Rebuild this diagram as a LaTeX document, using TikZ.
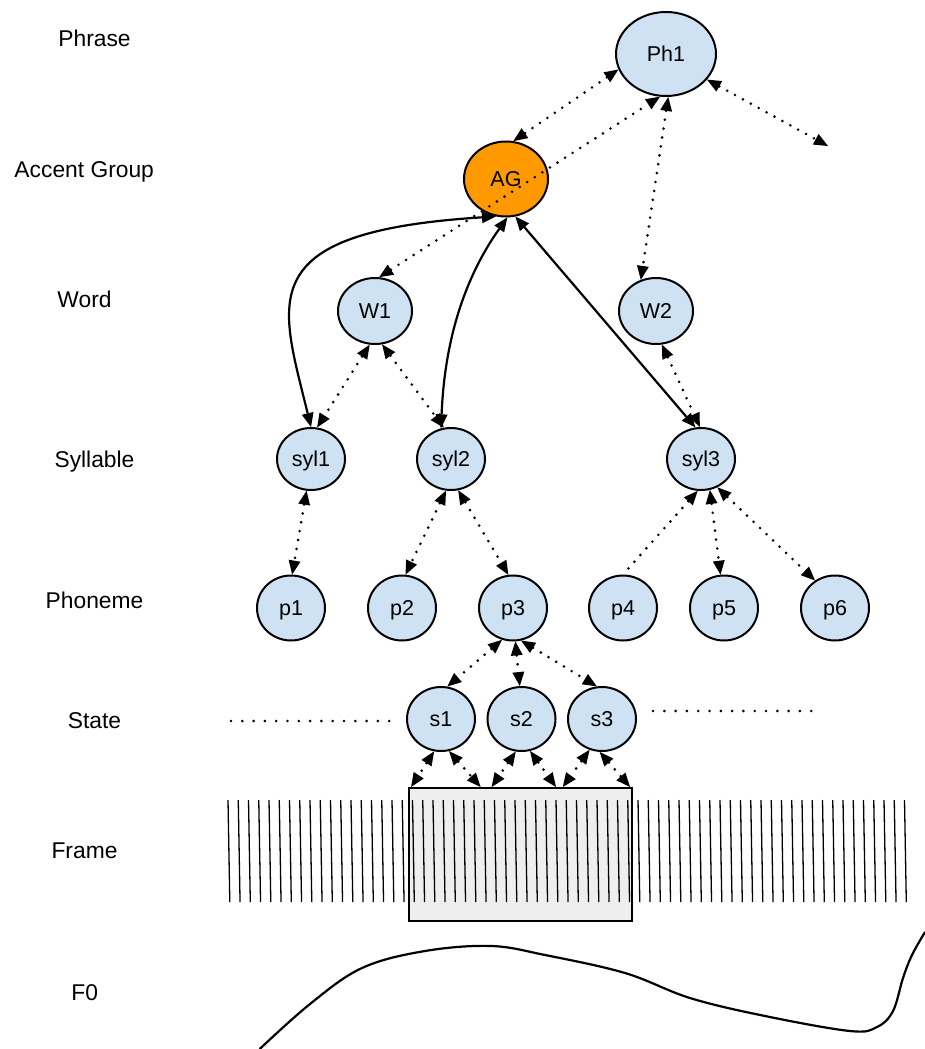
\documentclass[tikz,border=0pt]{standalone}
\usepackage{fontspec}
\setmainfont{Liberation Sans}
\usetikzlibrary{shapes.geometric,arrows.meta,calc}
\definecolor{nodeblue}{HTML}{CFE2F3}
\definecolor{agorange}{HTML}{FF9900}
\definecolor{boxgray}{HTML}{EEEEEE}
\begin{document}
\begin{tikzpicture}[x=1pt,y=-1pt,
  nd/.style={ellipse, draw=black, line width=2pt, fill=nodeblue, inner sep=0pt,
    font=\fontsize{21.5}{24}\selectfont, text height=15.5pt, text depth=0pt},
  synode/.style={nd, minimum width=68pt, minimum height=62pt},
  phnode/.style={nd, minimum width=68pt, minimum height=65pt},
  stnode/.style={nd, minimum width=68pt, minimum height=64pt},
  lbl/.style={anchor=base, font=\fontsize{22.8}{26}\selectfont},
  dl/.style={line width=2.9pt, dash pattern=on 0pt off 9pt, line cap=round},
  sl/.style={line width=2.2pt},
  bi/.style={{Triangle[length=14pt,width=12pt,line width=0pt]}-{Triangle[length=14pt,width=12pt,line width=0pt]}},
  lefttip/.style={{Triangle[length=14pt,width=12pt,line width=0pt]}-},
  frameline/.style={line width=1.3pt},
  statedots/.style={line width=2.9pt, dash pattern=on 0pt off 11.3pt, line cap=round}
]
\useasboundingbox (0,0) rectangle (925,1049);

% level labels
\node[lbl] (lPhrase) at (94.5,46.7) {Phrase};
\node[lbl] (lAG) at (84.2,177) {Accent Group};
\node[lbl] (lWord) at (84.5,307) {Word};
\node[lbl] (lSyl) at (94.5,467.3) {Syllable};
\node[lbl] (lPhon) at (94.5,608.3) {Phoneme};
\node[lbl] (lState) at (94.5,728.3) {State};
\node[lbl] (lFrame) at (84.5,858.3) {Frame};
\node[lbl] (lF0) at (84.7,1000) {F0};

% frame box and frame lines
\node[draw=black, line width=2pt, fill=boxgray, minimum width=223pt, minimum height=133pt,
  inner sep=0pt, anchor=north west] (box) at (407.5,787) {};
\foreach \i in {0,...,66}
  \draw[frameline] ({228+10.25*\i},800) -- ({229.8+10.25*\i},902);

% nodes
\node[nd, minimum width=100pt, minimum height=84pt] (Ph1) at (666,54) {Ph1};
\node[nd, fill=agorange, minimum width=84pt, minimum height=75pt] (AG) at (506,179) {AG};
\node[nd, minimum width=74pt, minimum height=66pt] (W1) at (375,311) {W1};
\node[nd, minimum width=74pt, minimum height=66pt] (W2) at (656,311) {W2};
\node[synode] (syl1) at (311,459) {syl1};
\node[synode] (syl2) at (451,459) {syl2};
\node[synode] (syl3) at (701,459) {syl3};
\node[phnode] (p1) at (291,608) {p1};
\node[phnode] (p2) at (402,608) {p2};
\node[phnode] (p3) at (513,608) {p3};
\node[phnode] (p4) at (623,608) {p4};
\node[phnode] (p5) at (724,608) {p5};
\node[phnode] (p6) at (835,608) {p6};
\node[stnode] (s1) at (441,719) {s1};
\node[stnode] (s2) at (521.5,719) {s2};
\node[stnode] (s3) at (602,719) {s3};

% state continuation dots
\coordinate (stL1) at (231,721);
\coordinate (stL2) at (393,721);
\coordinate (stR1) at (653,711);
\coordinate (stR2) at (817,711);
\draw[statedots] (stL1) -- (stL2);
\draw[statedots] (stR1) -- (stR2);

% phrase level connectors
\coordinate (rt) at (828,146);
\draw[dl,bi] (Ph1.198) -- (AG.79);
\draw[dl,bi] (Ph1.-32) -- (rt);
\draw[dl,bi] (W1.83) -- (Ph1.262);
\draw[dl,bi] (Ph1.273) -- (W2.116);

% accent group connectors
\draw[sl,bi] (AG.255) .. controls (250,232) and (280,300) .. (syl1.90);
\draw[sl,bi] (AG.272) .. controls (470,270) and (445,330) .. (syl2.108);
\draw[sl,bi] (AG.284) -- (syl3.100);

% word - syllable
\draw[dl,bi] (W1.261) -- (syl1.79);
\draw[dl,bi] (W1.282) -- (syl2.103);
\draw[dl,bi] (W2.280) -- (syl3.92);

% syllable - phoneme
\draw[dl,bi] (syl1.262) -- (p1.88);
\draw[dl,bi] (syl2.261) -- (p2.84);
\draw[dl,bi] (syl2.283) -- (p3.98);
\draw[dl,lefttip] (syl3.264) -- (p4.90);
\draw[dl,bi] (syl3.286) -- (p5.96);
\draw[dl,bi] (syl3.300) -- (p6.126);

% phoneme - state
\draw[dl,bi] (p3.251) -- (s1.79);
\draw[dl,bi] (p3.274) -- (s2.93);
\draw[dl,bi] (p3.284) -- (s3.99);

% state - frames
\draw[dl,bi] (s1.258) -- ($(box.north west)!0.016!(box.north east)$);
\draw[dl,bi] (s1.284) -- ($(box.north west)!0.325!(box.north east)$);
\draw[dl,bi] (s2.260) -- ($(box.north west)!0.374!(box.north east)$);
\draw[dl,bi] (s2.285) -- ($(box.north west)!0.66!(box.north east)$);
\draw[dl,bi] (s3.248) -- ($(box.north west)!0.69!(box.north east)$);
\draw[dl,bi] (s3.266) -- ($(box.north west)!0.989!(box.north east)$);

% F0 contour
\draw[line width=2.2pt] plot[smooth, tension=0.6] coordinates {
  (259.7,1049) (310,1004) (362,968) (425,951) (491,946) (545,955)
  (625,973) (690,998) (765,1016) (850,1031) (877,1027) (893,1011)
  (903,978) (912,955) (925,932)};
\end{tikzpicture}
\end{document}
